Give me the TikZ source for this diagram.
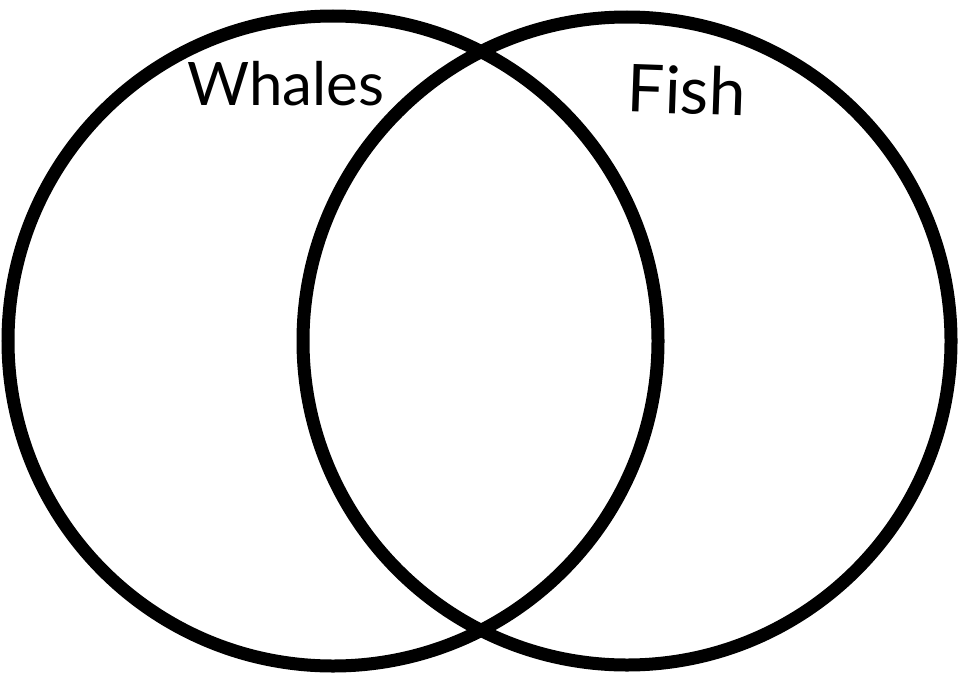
\documentclass[tikz,border=0pt]{standalone}
\usepackage{fontspec}
\setmainfont{Lato}
\begin{document}
\begin{tikzpicture}[x=1pt,y=-1pt,
  ring/.style={draw=black,line width=13pt},
  label/.style={anchor=base,inner sep=0pt,font=\fontsize{60}{70}\selectfont}]
\useasboundingbox (0,0) rectangle (960,677);
\fill[white] (0,0) rectangle (960,677);
\node[ring,circle,minimum size=650pt,inner sep=0pt] (whales) at (333,341) {};
\node[ring,circle,minimum size=648pt,inner sep=0pt] (fish) at (627,341) {};
\node[label] (wt) at (286,105) {Whales};
\node[label,font=\fontsize{66}{76}\selectfont,rotate=-2] (ft) at (686,114) {Fish};
\end{tikzpicture}
\end{document}
